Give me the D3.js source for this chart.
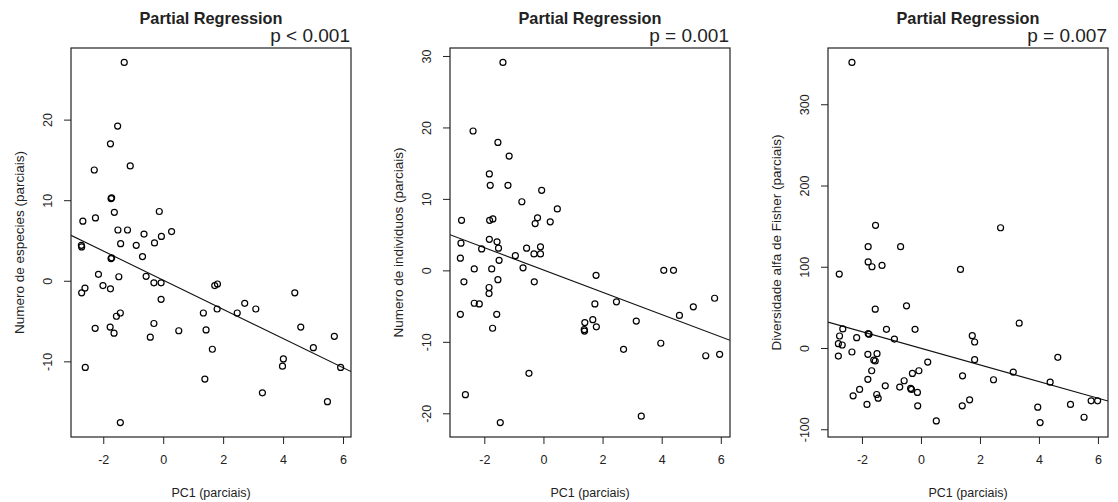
<!DOCTYPE html>
<html>
<head>
<meta charset="utf-8">
<script src="https://cdn.jsdelivr.net/npm/d3@7"></script>
<style>
  body { margin: 0; background: #fff; }
  svg { display: block; font-family: "Liberation Sans", Arial, sans-serif; }
</style>
</head>
<body>
<div id="chart"></div>
<script>
// panel 1 - Numero de especies
var p1X = [-1.30,-1.52,-1.76,-2.30,-1.10,-1.74,-1.72,-1.63,-0.13,-2.26,-2.68,-1.51,-1.19,-0.64,0.28,-0.06,
  -0.29,-1.42,-0.90,-2.73,-2.72,-0.69,-1.74,-1.72,-2.16,-1.48,-0.57,-0.31,-0.07,-2.01,-1.76,-2.61,-2.72,-0.07,
  -1.43,-1.56,1.34,1.72,1.81,4.39,2.72,1.80,2.47,3.09,-0.31,-2.27,-1.77,-1.64,0.52,1.43,-0.43,4.59,5.71,5.01,
  1.64,4.01,3.98,5.92,-2.60,1.39,3.31,5.48,-1.43];
var p1Y = [27.1,19.2,17.0,13.75,14.25,10.2,10.3,8.5,8.6,7.8,7.4,6.3,6.3,5.8,6.1,5.5,
  4.7,4.6,4.4,4.4,4.2,3.0,2.75,2.85,0.8,0.5,0.55,-0.25,-0.25,-0.6,-1.0,-0.9,-1.5,-2.3,
  -4.0,-4.4,-4.0,-0.6,-0.4,-1.5,-2.8,-3.5,-4.0,-3.5,-5.3,-5.9,-5.75,-6.5,-6.2,-6.1,-7.0,-5.75,-6.9,-8.3,
  -8.5,-9.7,-10.6,-10.75,-10.75,-12.2,-13.9,-15.0,-17.6];

// panel 2 - Numero de individuos
var p2X = [-1.37,-2.38,-1.54,-1.16,-1.83,-1.80,-1.20,-0.06,-0.73,0.47,-2.77,-1.82,-1.71,-0.20,-0.28,0.23,
  -1.83,-1.57,-2.79,-1.52,-2.09,-0.57,-0.10,-0.32,-0.10,-0.95,-2.81,-1.50,-2.34,-1.75,-0.69,-2.69,-1.54,-0.31,
  -1.84,-1.84,-2.34,-2.17,-2.81,-1.58,-1.72,-0.49,-2.64,-1.46,1.40,1.38,1.39,1.78,4.07,4.40,1.74,2.47,1.67,
  1.79,3.14,4.60,5.07,5.79,3.97,2.71,5.49,5.96,3.31];
var p2Y = [29.1,19.5,17.9,16.0,13.5,11.9,11.9,11.2,9.6,8.6,7.0,7.0,7.2,7.35,6.55,6.8,
  4.35,4.0,3.8,3.1,3.0,3.1,3.3,2.3,2.3,2.05,1.7,1.4,0.2,0.2,0.35,-1.6,-1.3,-1.6,
  -2.4,-3.25,-4.6,-4.7,-6.15,-6.15,-8.1,-14.4,-17.4,-21.3,-7.3,-8.3,-8.5,-0.7,0.0,0.0,-4.7,-4.4,-6.9,
  -7.9,-7.1,-6.3,-5.1,-3.9,-10.2,-11.05,-11.95,-11.75,-20.4];

// panel 3 - Diversidade alfa de Fisher
var p3X = [-2.34,-1.54,2.70,-1.79,-0.69,-1.79,-1.66,-1.32,-2.77,1.34,-1.55,-0.49,3.33,-2.65,-1.17,-0.20,
  -2.76,-2.18,-1.79,-1.76,-0.90,1.74,1.82,1.82,-2.80,-2.67,-2.80,-2.34,-1.80,-1.49,-1.60,-1.55,-1.67,-1.80,
  0.23,-0.07,-0.29,-0.57,-1.21,-0.72,-0.35,-0.32,-0.12,-2.08,-2.30,-1.50,-1.45,-1.83,-0.11,0.52,1.41,2.46,
  3.13,4.64,4.38,1.65,1.40,3.96,4.04,5.07,5.53,5.77,5.99];
var p3Y = [351.5,151,148,124.7,124.7,106,100,101.6,91,96.7,47.8,51.9,30.5,23.5,23.0,23.0,
  14.8,12.7,17.7,16.9,11.0,15.2,7.4,-14.4,5.3,3.7,-9.9,-4.9,-7.8,-7.0,-14.8,-16.0,-28,-38.6,
  -17.3,-28,-31.3,-40.3,-46.5,-48.1,-49.8,-51,-54.7,-51,-58.9,-57.2,-61.7,-69.5,-71.2,-89.7,-34.2,-39.1,
  -29.6,-11.5,-42,-63.8,-71.2,-72.8,-91.8,-69.5,-85.2,-65,-65];

var yLabels = ["Numero de especies (parciais)", "Numero de individuos (parciais)", "Diversidade alfa de Fisher (parciais)"];
var pLabels = ["p < 0.001", "p = 0.001", "p = 0.007"];
var xTicks = [-2, 0, 2, 4, 6];
var yTicks = [[-10, 0, 10, 20], [-20, -10, 0, 10, 20, 30], [-100, 0, 100, 200, 300]];
var intercepts = [0.08, 0.06, -0.4];
var slopes = [-1.81, -1.56, -10.23];

var w = 1118;
var h = 502;
var boxLeft = [71, 450, 828];
var boxW = 280;
var boxTop = 48;
var boxH = 389;

var svg = d3.select("#chart")
            .append("svg")
            .attr("width", w)
            .attr("height", h);

// R style axis range: data range widened 4% on each side
function rDomain(v) {
    var e = d3.extent(v);
    var pad = (e[1] - e[0]) * 0.04;
    return [e[0] - pad, e[1] + pad];
}

var panels = [[p1X, p1Y], [p2X, p2Y], [p3X, p3Y]];

panels.forEach(function(p, i) {
    var left = boxLeft[i];
    var g = svg.append("g");

    var xScale = d3.scaleLinear()
        .domain(rDomain(p[0]))
        .range([left, left + boxW]);
    var yScale = d3.scaleLinear()
        .domain(rDomain(p[1]))
        .range([boxTop + boxH, boxTop]);

    g.append("clipPath")
        .attr("id", "clip" + i)
        .append("rect")
        .attr("x", left).attr("y", boxTop)
        .attr("width", boxW).attr("height", boxH);

    // regression line
    var xd = xScale.domain();
    g.append("line")
        .attr("clip-path", "url(#clip" + i + ")")
        .attr("x1", xScale(xd[0]))
        .attr("y1", yScale(intercepts[i] + slopes[i] * xd[0]))
        .attr("x2", xScale(xd[1]))
        .attr("y2", yScale(intercepts[i] + slopes[i] * xd[1]))
        .attr("stroke", "#111")
        .attr("stroke-width", 1.1);

    g.selectAll("circle")
        .data(d3.range(p[0].length))
        .enter()
        .append("circle")
        .attr("cx", function(d) { return xScale(p[0][d]); })
        .attr("cy", function(d) { return yScale(p[1][d]); })
        .attr("r", 3)
        .attr("fill", "none")
        .attr("stroke", "#000")
        .attr("stroke-width", 1.2);

    // axes
    var xAxis = d3.axisBottom(xScale).tickValues(xTicks).tickSize(7).tickPadding(11);
    var yAxis = d3.axisLeft(yScale).tickValues(yTicks[i]).tickSize(7).tickPadding(6);

    var gx = g.append("g")
        .attr("transform", "translate(0," + (boxTop + boxH) + ")")
        .call(xAxis);
    gx.select(".domain").remove();
    gx.selectAll("line").attr("stroke", "#222");
    gx.selectAll("text")
        .attr("font-size", 12.5)
        .attr("fill", "#222")
        .text(function(d) { return d < 0 ? "-" + Math.abs(d) : d; });

    var gy = g.append("g")
        .attr("transform", "translate(" + left + ",0)")
        .call(yAxis);
    gy.select(".domain").remove();
    gy.selectAll("line").attr("stroke", "#222");
    gy.selectAll("text")
        .attr("font-size", 12.5)
        .attr("fill", "#222")
        .attr("text-anchor", "middle")
        .attr("dy", 0)
        .attr("x", 0)
        .attr("transform", "translate(-19,0) rotate(-90)")
        .text(function(d) { return d < 0 ? "-" + Math.abs(d) : d; });

    g.append("rect")
        .attr("x", left).attr("y", boxTop)
        .attr("width", boxW).attr("height", boxH)
        .attr("fill", "none")
        .attr("stroke", "#222")
        .attr("stroke-width", 1.2);

    // titles and labels
    g.append("text")
        .attr("x", left + boxW / 2)
        .attr("y", 24)
        .attr("text-anchor", "middle")
        .attr("font-weight", "bold")
        .attr("font-size", 16.3)
        .attr("fill", "#222")
        .text("Partial Regression");

    g.append("text")
        .attr("x", left + boxW - 1)
        .attr("y", 42)
        .attr("text-anchor", "end")
        .attr("font-size", 19)
        .attr("fill", "#222")
        .text(pLabels[i]);

    g.append("text")
        .attr("x", left + boxW / 2)
        .attr("y", 497)
        .attr("text-anchor", "middle")
        .attr("font-size", 12.5)
        .attr("fill", "#222")
        .text("PC1 (parciais)");

    g.append("text")
        .attr("text-anchor", "middle")
        .attr("transform", "translate(" + (left - 47) + "," + (boxTop + boxH / 2) + ") rotate(-90)")
        .attr("font-size", 13.5)
        .attr("fill", "#222")
        .text(yLabels[i]);
});
</script>
</body>
</html>
